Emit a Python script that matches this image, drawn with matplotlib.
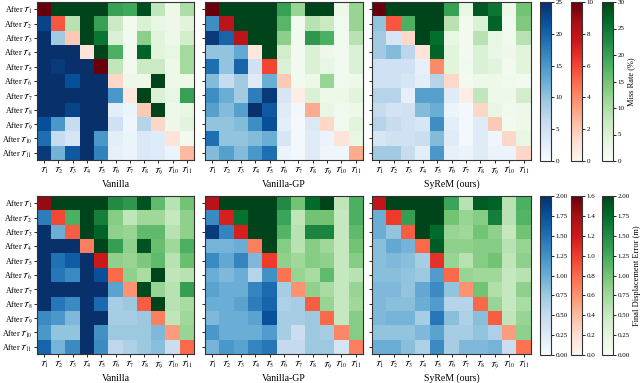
import numpy as np
import matplotlib
matplotlib.use("Agg")
import matplotlib.pyplot as plt
from matplotlib.colors import Normalize
from matplotlib.cm import ScalarMappable

plt.rcParams['font.family'] = ['Liberation Serif', 'DejaVu Serif']
plt.rcParams['mathtext.fontset'] = 'stix'

methods = ["Vanilla", "Vanilla-GP", "SyReM (ours)"]
tasks = [r"$\mathcal{T}_{%d}$" % (i + 1) for i in range(11)]
rows = [r"After $\mathcal{T}_{%d}$" % (i + 1) for i in range(11)]

# Miss rate (%) -- row: after training task i, column: evaluated on task j
mr_vanilla = [
    [10, 30, 30, 30, 30, 20, 19, 29, 8, 2, 10],
    [23, 5.5, 9, 30, 20, 7, 1, 5, 3, 2, 4],
    [25, 9, 2, 30, 25, 5, 1, 13, 4, 2, 6],
    [25, 25, 25, 1, 30, 18, 1, 27, 4, 3, 11],
    [25, 24, 25, 25, 10, 8, 1, 7, 7, 2, 11],
    [25, 25, 22, 25, 25, 1.5, 2, 2, 30, 2, 2],
    [25, 25, 25, 25, 25, 15, 0.8, 30, 5, 3, 20],
    [25, 25, 23, 25, 25, 2.5, 1.5, 2, 30, 2, 3],
    [22, 15, 6, 25, 25, 5, 1, 7.5, 1.5, 2, 4],
    [19, 6, 4, 25, 15, 2.5, 1.5, 3.5, 3, 1, 1],
    [24, 12, 21, 25, 17, 2, 1.5, 3.5, 3, 1.5, 2.5],
]
mr_gp = [
    [10, 30, 30, 30, 30, 20, 12, 30, 30, 2, 12],
    [16, 8, 30, 30, 30, 17, 1, 9, 7, 1.5, 12],
    [24, 20, 8, 30, 30, 13, 1, 21, 18, 1.5, 9],
    [10, 10, 13, 0.8, 30, 6, 1, 5, 2, 1.5, 5],
    [19, 10, 20, 5, 6, 5, 1, 5, 3, 1.5, 5],
    [11, 6, 9, 3, 12.5, 2, 1, 2, 12, 1.5, 2],
    [16, 12.5, 9, 17.5, 24, 4, 0.5, 5, 2, 2, 4],
    [14, 11, 14, 25, 21, 3, 0.7, 3, 3, 1.5, 2],
    [10, 10, 11, 16, 22, 2.5, 0.5, 3.5, 1.5, 1.5, 4],
    [19, 10, 10, 11, 12.5, 4, 0.5, 3, 1.5, 1, 3],
    [11, 14, 11, 15, 19, 1.5, 0.5, 3, 1, 1, 3],
]
mr_syrem = [
    [10, 30, 30, 30, 30, 20, 3, 28, 25, 2, 15],
    [10, 5.5, 18, 30, 30, 9, 1, 5, 27, 1.5, 14],
    [9, 4, 1.5, 30, 26, 3, 1, 9, 3, 1.5, 9],
    [9, 11, 7, 1, 27, 4, 1, 5, 3, 2, 4],
    [5, 5, 5, 2, 4, 4, 1.5, 5, 4, 1, 4],
    [5, 5, 4, 2.5, 7.5, 1.5, 1, 2, 2, 1.5, 1],
    [7.5, 7.5, 2, 14, 14, 3, 0.5, 8, 2, 2, 6],
    [6, 4.5, 5, 11, 12.5, 1.5, 0.5, 1.5, 3, 1.5, 2],
    [7.5, 6, 5, 4, 16, 2.5, 0.5, 3, 2, 1, 2],
    [4, 5, 5, 5.5, 11, 3, 0.5, 3, 1, 1.5, 3],
    [9, 9, 6, 2.5, 15, 2, 1.5, 3, 1.5, 1.5, 1.5],
]

# Final displacement error (m)
fde_vanilla = [
    [1.45, 2.0, 2.0, 2.0, 2.0, 1.5, 1.4, 1.9, 1.1, 0.6, 1.0],
    [1.4, 0.95, 1.2, 2.0, 1.6, 0.9, 0.55, 0.75, 0.75, 0.5, 0.85],
    [2.0, 1.0, 0.85, 2.0, 1.8, 0.85, 0.8, 1.1, 1.1, 0.6, 0.85],
    [2.0, 2.0, 2.0, 0.7, 2.0, 1.35, 0.85, 1.9, 1.05, 0.75, 1.2],
    [2.0, 1.5, 1.65, 2.0, 1.2, 0.85, 0.8, 0.95, 1.1, 0.6, 1.05],
    [2.0, 1.45, 1.3, 2.0, 1.75, 0.8, 0.85, 0.7, 2.0, 0.55, 0.6],
    [2.0, 2.0, 2.0, 2.0, 2.0, 1.1, 0.6, 1.95, 0.8, 0.6, 1.35],
    [2.0, 1.45, 1.3, 2.0, 1.55, 0.7, 0.75, 0.85, 2.0, 0.6, 0.7],
    [1.3, 1.2, 0.9, 2.0, 2.0, 0.7, 0.7, 0.75, 0.7, 0.55, 0.75],
    [1.2, 0.8, 0.8, 2.0, 1.25, 0.75, 0.75, 0.75, 0.9, 0.55, 0.8],
    [1.6, 0.95, 1.3, 2.0, 1.3, 0.55, 0.65, 0.75, 0.85, 0.45, 0.8],
]
fde_gp = [
    [1.3, 2.0, 2.0, 2.0, 2.0, 1.5, 1.0, 1.75, 2.0, 0.55, 1.2],
    [1.3, 1.15, 1.7, 2.0, 2.0, 1.3, 0.55, 1.0, 1.0, 0.5, 1.2],
    [1.9, 1.35, 1.15, 2.0, 2.0, 1.15, 0.6, 1.55, 1.55, 0.5, 1.1],
    [0.95, 0.95, 1.0, 0.7, 2.0, 0.9, 0.6, 0.9, 0.75, 0.5, 1.0],
    [1.3, 1.05, 1.35, 0.9, 1.0, 0.85, 0.75, 0.9, 0.85, 0.5, 0.9],
    [1.0, 0.9, 1.0, 0.6, 1.25, 0.75, 0.8, 0.7, 1.1, 0.5, 0.6],
    [1.1, 1.0, 1.0, 1.35, 1.55, 0.7, 0.6, 0.85, 0.7, 0.5, 0.8],
    [1.0, 1.0, 1.1, 1.4, 1.6, 0.65, 0.7, 0.85, 0.8, 0.5, 0.75],
    [0.9, 1.0, 1.0, 1.1, 1.75, 0.7, 0.7, 0.75, 0.8, 0.5, 0.9],
    [1.2, 1.0, 1.0, 1.0, 1.15, 0.7, 0.45, 0.75, 0.7, 0.65, 0.9],
    [0.95, 1.2, 1.1, 1.35, 1.45, 0.5, 0.5, 0.75, 0.75, 0.35, 0.7],
]
fde_syrem = [
    [1.25, 2.0, 2.0, 2.0, 2.0, 1.3, 0.6, 1.85, 1.8, 0.6, 1.2],
    [1.0, 1.0, 1.35, 2.0, 2.0, 1.0, 0.8, 0.9, 1.6, 0.6, 1.15],
    [1.0, 0.8, 0.85, 2.0, 1.75, 0.8, 0.75, 1.0, 0.85, 0.5, 1.0],
    [0.85, 1.05, 0.95, 0.8, 1.85, 0.85, 0.85, 0.9, 0.9, 0.6, 0.8],
    [0.85, 0.9, 0.85, 0.7, 1.05, 0.8, 0.6, 0.9, 1.0, 0.55, 0.85],
    [0.85, 0.85, 0.8, 0.75, 1.15, 0.8, 0.8, 0.75, 0.75, 0.5, 0.6],
    [0.9, 0.9, 0.8, 1.05, 1.3, 0.8, 0.6, 1.0, 0.65, 0.5, 0.85],
    [0.9, 0.85, 0.85, 1.0, 1.15, 0.6, 0.6, 0.8, 0.8, 0.5, 0.7],
    [0.9, 0.95, 0.95, 0.7, 1.45, 0.85, 0.65, 0.85, 0.85, 0.55, 0.8],
    [0.8, 0.8, 0.8, 0.9, 1.1, 0.7, 0.7, 0.8, 0.65, 0.55, 0.85],
    [1.0, 1.0, 0.85, 0.65, 1.3, 0.7, 0.9, 0.9, 0.95, 0.45, 0.75],
]

W, H = 640, 383
fig = plt.figure(figsize=(W / 100, H / 100), dpi=100)


def px_axes(x0, y0, x1, y1):
    return fig.add_axes([x0 / W, 1 - y1 / H, (x1 - x0) / W, (y1 - y0) / H])


panel_x = [(37, 194), (205, 363), (372, 531)]
row_y = [(2, 160), (196, 354)]
cbar_x = [(540, 551), (571, 582), (602, 613)]

settings = [
    dict(data=[mr_vanilla, mr_gp, mr_syrem], vmax=(25, 10, 30),
         ticks=(np.arange(0, 26, 5), np.arange(0, 11, 2), np.arange(0, 31, 5)),
         fmt=("%d", "%d", "%d"), label="Miss Rate (%)"),
    dict(data=[fde_vanilla, fde_gp, fde_syrem], vmax=(2.0, 1.6, 2.0),
         ticks=(np.arange(0, 2.01, 0.25), np.arange(0, 1.61, 0.2), np.arange(0, 2.01, 0.25)),
         fmt=("%.2f", "%.1f", "%.2f"), label="Final Displacement Error (m)"),
]
cmaps = ["Blues", "Reds", "Greens"]

n = 11
ii, jj = np.indices((n, n))
masks = [jj < ii, jj == ii, jj > ii]

for r, cfg in enumerate(settings):
    y0, y1 = row_y[r]
    for p, mat in enumerate(cfg["data"]):
        ax = px_axes(panel_x[p][0], y0, panel_x[p][1], y1)
        m = np.array(mat, dtype=float)
        for k in range(3):
            ax.imshow(np.ma.masked_where(~masks[k], m), cmap=cmaps[k],
                      vmin=0, vmax=cfg["vmax"][k], aspect="auto",
                      interpolation="nearest")
        ax.set_xticks(range(n))
        ax.set_xticklabels(tasks, fontsize=6)
        ax.set_yticks(range(n))
        if p == 0:
            ax.set_yticklabels(rows, fontsize=5.8)
        else:
            ax.set_yticklabels([])
        ax.tick_params(length=2.5, width=0.6, pad=1)
        ax.set_xlabel(methods[p], fontsize=7)
        ax.xaxis.set_label_coords(0.5, -0.125)
        for s in ax.spines.values():
            s.set_linewidth(0.8)
            s.set_color("#333333")
    for k in range(3):
        cax = px_axes(cbar_x[k][0], y0, cbar_x[k][1], y1 + 1)
        sm = ScalarMappable(norm=Normalize(0, cfg["vmax"][k]), cmap=cmaps[k])
        cb = fig.colorbar(sm, cax=cax, ticks=cfg["ticks"][k], format=cfg["fmt"][k])
        cb.ax.tick_params(labelsize=5, length=2, width=0.6, pad=1.5)
        cb.outline.set_linewidth(0.8)
        cb.outline.set_edgecolor("#333333")
        if k == 2:
            cb.set_label(cfg["label"], fontsize=6, labelpad=2)

fig.savefig("out.png", dpi=100)
